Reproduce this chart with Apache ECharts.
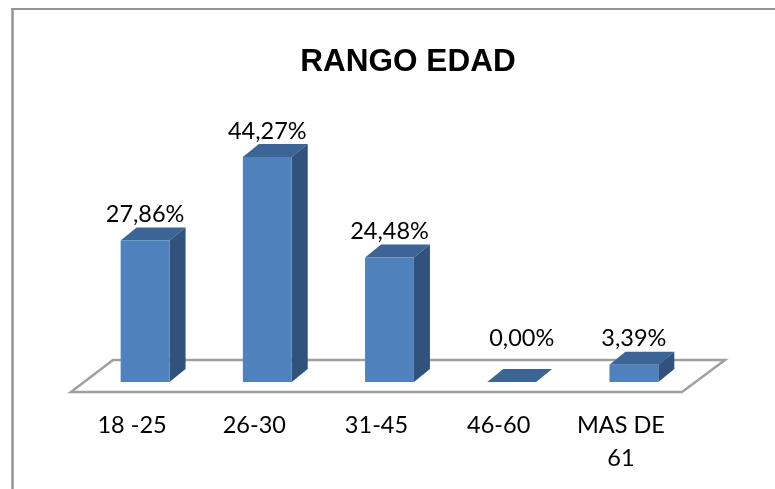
<!DOCTYPE html>
<html>
<head>
<meta charset="utf-8">
<style>html,body{margin:0;padding:0;background:#fff}#c{width:775px;height:489px}</style>
<script src="https://cdn.jsdelivr.net/npm/echarts@6/dist/echarts.min.js"></script>
</head>
<body>
<div id="c"></div>
<script>
const titleText = 'RANGO EDAD';
const categories = ['18 -25', '26-30', '31-45', '46-60', 'MAS DE\n61'];
const values = [27.86, 44.27, 24.48, 0, 3.39];
const valueLabels = ['27,86%', '44,27%', '24,48%', '0,00%', '3,39%'];

const DEPTH_X = 16, DEPTH_Y = 13;     // oblique offset of a bar's back face
const BAR_SHIFT = 13;                 // bars sit mid-way across the floor's depth
const FRONT = '#4f81bd', SIDE = '#31527c', TOP = '#3c6494', EDGE = '#a0a0a0', FRAME = '#949494';
const LABEL_FONT = 'Lato, "Open Sans", sans-serif';
const LABEL_SIZE = 23.5;

const chart = echarts.init(document.getElementById('c'), null, {renderer: 'canvas'});

function renderFloor(params, api) {
  const g = params.coordSys;
  const yFront = g.y + g.height + 10, yBack = g.y + g.height - 22;
  return {
    type: 'polygon', silent: true,
    shape: {points: [[g.x, yFront], [g.x + 42, yBack], [g.x + g.width + 43, yBack], [g.x + g.width, yFront]]},
    style: {fill: 'none', stroke: EDGE, lineWidth: 2.5}
  };
}

function renderBar(params, api) {
  const i = api.value(0), v = api.value(1);
  const base = api.coord([i, 0]), top = api.coord([i, v]);
  const w = api.size([1, 0])[0] * 0.4;
  const x0 = base[0] + BAR_SHIFT - w / 2, x1 = x0 + w, y0 = base[1], y1 = top[1];
  const dx = DEPTH_X, dy = DEPTH_Y;
  const children = [
    {type: 'polygon', shape: {points: [[x0, y1], [x1, y1], [x1 + dx, y1 - dy], [x0 + dx, y1 - dy]]}, style: {fill: TOP}}
  ];
  if (v > 0) {
    children.push(
      {type: 'polygon', shape: {points: [[x1, y0], [x1 + dx, y0 - dy], [x1 + dx, y1 - dy], [x1, y1]]}, style: {fill: SIDE}},
      {type: 'rect', shape: {x: x0, y: y1, width: w, height: y0 - y1}, style: {fill: FRONT}}
    );
  }
  return {type: 'group', silent: true, children};
}

function renderLabel(params, api) {
  const i = api.value(0), v = api.value(1);
  const minShown = Math.min(...values.filter(n => n > 0));
  const p = api.coord([i, Math.max(v, minShown)]);
  const x = p[0] + BAR_SHIFT + (v > 0 ? 0 : 10);
  return {
    type: 'text', silent: true,
    style: {
      x, y: p[1] - DEPTH_Y - 13, text: valueLabels[i], align: 'center', verticalAlign: 'middle',
      font: LABEL_SIZE + 'px ' + LABEL_FONT, fill: '#000'
    }
  };
}

const barData = categories.map((c, i) => [i, values[i]]);

chart.setOption({
  animation: false,
  backgroundColor: '#fff',
  title: {
    text: titleText, left: 403, top: 41, textAlign: 'center',
    textStyle: {fontFamily: '"Liberation Sans", Arial, sans-serif', fontWeight: 'bold', fontSize: 31.5, color: '#000'}
  },
  grid: {left: 71, width: 611, top: 157, height: 225},
  xAxis: {
    type: 'category', data: categories,
    axisLine: {show: false}, axisTick: {show: false}, splitLine: {show: false},
    axisLabel: {
      margin: 27, interval: 0, fontFamily: LABEL_FONT, fontSize: LABEL_SIZE, color: '#000',
      lineHeight: 33, verticalAlign: 'top', align: 'center'
    }
  },
  yAxis: {type: 'value', min: 0, max: 44.27, show: false, splitLine: {show: false}},
  graphic: [
    {type: 'line', silent: true, shape: {x1: 12.5, y1: 489, x2: 12.5, y2: 9}, style: {stroke: FRAME, lineWidth: 2.5}},
    {type: 'line', silent: true, shape: {x1: 11.25, y1: 9, x2: 775, y2: 9}, style: {stroke: FRAME, lineWidth: 2}}
  ],
  series: [
    {type: 'custom', coordinateSystem: 'cartesian2d', renderItem: renderFloor, data: [[0, 0]], z: 1, clip: false},
    {type: 'custom', coordinateSystem: 'cartesian2d', renderItem: renderBar, data: barData, z: 2, clip: false},
    {type: 'custom', coordinateSystem: 'cartesian2d', renderItem: renderLabel, data: barData, z: 3, clip: false}
  ]
});
</script>
</body>
</html>
